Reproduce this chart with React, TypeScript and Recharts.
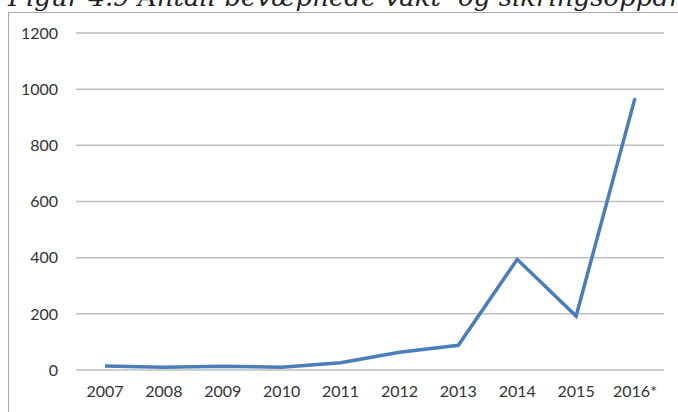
import { LineChart, Line, XAxis, YAxis, CartesianGrid } from 'recharts';

const years = ['2007', '2008', '2009', '2010', '2011', '2012', '2013', '2014', '2015', '2016*'];
const oppdrag = [14, 10, 13, 10, 26, 63, 88, 394, 192, 968];
const yTicks = [0, 200, 400, 600, 800, 1000, 1200];

const data = years.map((year, i) => ({ year, value: oppdrag[i] }));

const tickStyle = { fontFamily: 'Lato, "Open Sans", sans-serif', fontSize: 16, fill: '#333' };

export default function App() {
  return (
    <div style={{ position: 'absolute', left: 0, top: 0, width: 678, height: 412, overflow: 'hidden', background: '#fff' }}>
      <svg width={678} height={30} style={{ position: 'absolute', left: 0, top: 0 }}>
        <text x={8} y={6} fontFamily='"DejaVu Serif", serif' fontStyle="italic" fontSize={26} fill="#222">
          Figur 4.9 Antall bevæpnede vakt- og sikringsoppdrag
        </text>
      </svg>
      <div
        style={{
          position: 'absolute',
          left: 8,
          top: 12,
          width: 700,
          height: 420,
          border: '1.5px solid #a6a6a6',
          boxSizing: 'border-box',
        }}
      />
      <div style={{ position: 'absolute', left: 0, top: 0 }}>
        <LineChart width={678} height={412} data={data} margin={{ top: 33, right: 14, bottom: 0, left: 0 }}>
          <CartesianGrid vertical={false} stroke="#bfbfbf" strokeWidth={1.5} />
          <XAxis
            dataKey="year"
            axisLine={false}
            tickLine={false}
            tick={tickStyle}
            tickMargin={10}
            height={42}
            padding={{ left: 29, right: 29 }}
            interval={0}
          />
          <YAxis
            domain={[0, 1200]}
            ticks={yTicks}
            axisLine={false}
            tickLine={false}
            tick={tickStyle}
            tickMargin={12}
            width={76}
            interval={0}
          />
          <Line
            dataKey="value"
            stroke="#4a7ebb"
            strokeWidth={3.5}
            dot={false}
            isAnimationActive={false}
          />
        </LineChart>
      </div>
    </div>
  );
}
